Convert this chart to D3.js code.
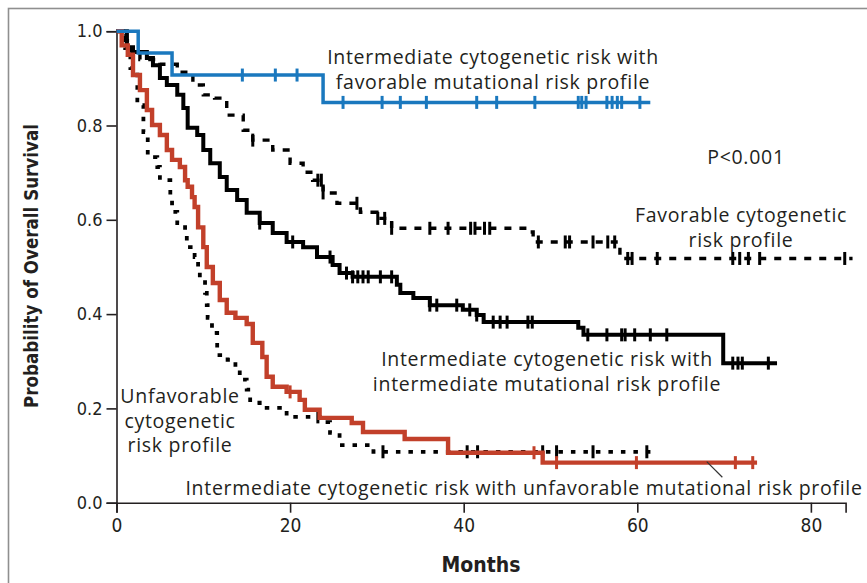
<!DOCTYPE html>
<html>
<head>
<meta charset="utf-8">
<script src="https://cdn.jsdelivr.net/npm/d3@7"></script>
<style>
  html, body { margin: 0; padding: 0; background: #fff; }
  svg { display: block; }
  .tick text { fill: #231f20; }
</style>
</head>
<body>
<svg id="chart" width="867" height="583"></svg>
<script>
// Kaplan–Meier overall survival by cytogenetic / mutational risk group.
// Each curve: event times (months), survival after each event, censoring times.

// Favorable cytogenetic risk profile (dashed)
const favT = [0, 0.8, 1.6, 2.7, 5.0, 7.0, 8.8, 10.0, 11.3, 12.7, 14.6, 15.7, 18.0, 20.0, 21.5, 22.6, 23.8, 25.4, 28.1, 30.0, 31.7, 47.3, 48.0, 58.0, 84.8];
const favS = [1, 0.98, 0.958, 0.94, 0.93, 0.913, 0.886, 0.865, 0.858, 0.822, 0.79, 0.769, 0.748, 0.72, 0.701, 0.684, 0.657, 0.635, 0.616, 0.603, 0.582, 0.574, 0.553, 0.518, 0.518];
const favCensor = [15.7, 23.2, 23.6, 23.8, 27.7, 30.1, 30.9, 31.7, 36.1, 38.2, 40.8, 41.3, 42.4, 43.0, 48.6, 51.7, 52.2, 54.9, 56.6, 57.4, 58.9, 59.4, 62.3, 71.0, 71.8, 72.8, 74.1, 83.9];

// Unfavorable cytogenetic risk profile (dotted)
const unfT = [0, 0.7, 1.0, 1.6, 2.4, 3.1, 3.6, 4.7, 5.0, 6.2, 6.4, 7.0, 7.9, 8.1, 9.0, 9.4, 9.6, 10.2, 10.4, 10.5, 11.0, 11.6, 12.8, 13.7, 14.2, 15.0, 15.4, 16.5, 19.6, 23.4, 24.6, 25.7, 29.6, 62.0];
const unfS = [1, 0.99, 0.964, 0.922, 0.843, 0.786, 0.733, 0.712, 0.684, 0.642, 0.617, 0.593, 0.574, 0.542, 0.521, 0.498, 0.472, 0.445, 0.419, 0.392, 0.36, 0.313, 0.303, 0.282, 0.261, 0.24, 0.212, 0.201, 0.182, 0.171, 0.148, 0.122, 0.108, 0.108];
const unfCensor = [23.2, 30.7, 40.4, 41.6, 49.1, 50.7, 54.9, 61.1];

// Intermediate cytogenetic risk, intermediate mutational risk (solid black)
const midT = [0, 1.2, 1.9, 3.5, 4.2, 5.0, 5.8, 7.0, 7.7, 8.2, 9.3, 10.0, 10.8, 11.9, 12.7, 13.9, 15.0, 16.5, 18.0, 19.6, 21.5, 23.1, 24.9, 25.7, 27.2, 32.3, 32.7, 34.2, 36.1, 39.9, 41.5, 42.3, 53.2, 53.8, 69.9, 76.1];
const midS = [1, 0.966, 0.956, 0.943, 0.928, 0.901, 0.886, 0.865, 0.837, 0.795, 0.78, 0.748, 0.72, 0.691, 0.663, 0.642, 0.615, 0.593, 0.572, 0.553, 0.542, 0.521, 0.504, 0.487, 0.479, 0.462, 0.445, 0.434, 0.419, 0.409, 0.398, 0.383, 0.371, 0.356, 0.296, 0.296];
const midCensor = [16.5, 20.3, 24.6, 26.5, 27.2, 27.8, 28.4, 29.0, 30.4, 31.7, 36.1, 36.9, 39.2, 40.7, 41.5, 43.4, 44.2, 45.0, 47.4, 47.9, 54.3, 56.5, 58.2, 58.6, 59.7, 61.5, 63.4, 71.0, 71.6, 72.1, 75.1];

// Intermediate cytogenetic risk, unfavorable mutational risk (red)
const redT = [0, 0.6, 1.3, 1.9, 2.7, 3.5, 4.1, 5.0, 5.8, 6.4, 7.3, 7.9, 8.2, 8.7, 9.0, 9.4, 10.0, 10.4, 11.1, 11.9, 12.7, 13.7, 15.0, 15.7, 16.8, 17.3, 18.0, 19.6, 21.1, 21.7, 23.4, 27.1, 28.4, 33.2, 38.2, 49.1, 73.8];
const redS = [1, 0.97, 0.95, 0.907, 0.875, 0.833, 0.801, 0.78, 0.748, 0.727, 0.712, 0.684, 0.67, 0.648, 0.627, 0.584, 0.542, 0.5, 0.466, 0.43, 0.403, 0.392, 0.379, 0.339, 0.309, 0.267, 0.246, 0.235, 0.218, 0.197, 0.18, 0.169, 0.15, 0.135, 0.106, 0.085, 0.085];
const redCensor = [20.0, 48.1, 50.7, 59.9, 71.3, 73.3];

// Intermediate cytogenetic risk, favorable mutational risk (blue)
const blueT = [0, 2.5, 6.4, 23.8, 61.5];
const blueS = [1, 0.954, 0.907, 0.849, 0.849];
const blueCensor = [14.5, 18.3, 20.8, 26.1, 30.6, 32.7, 35.7, 41.5, 43.8, 48.2, 53.2, 53.6, 54.1, 56.5, 57.1, 57.7, 58.2, 60.3];

// Axis ticks
const xTicks = [0, 20, 40, 60, 80];
const yTicks = [0, 0.2, 0.4, 0.6, 0.8, 1.0];

const svg = d3.select("#chart");
const x = d3.scaleLinear().domain([0, 84]).range([116.5, 845.6]);
const y = d3.scaleLinear().domain([0, 1]).range([502.7, 31.2]);

const ink = "#231f20";
const condensed = "'DejaVu Sans Condensed', 'Liberation Sans Narrow', sans-serif";
const labelFont = "'Open Sans', 'Noto Sans', sans-serif";

// outer frame
svg.append("rect")
  .attr("x", 8.5).attr("y", 8.5).attr("width", 900).attr("height", 600)
  .attr("fill", "none").attr("stroke", "#8f8f8f").attr("stroke-width", 1.6);

// axes
const gx = svg.append("g").attr("transform", `translate(0,${y(0)})`)
  .call(d3.axisBottom(x).tickValues(xTicks).tickSize(10).tickPadding(6).tickFormat(d3.format("d")));
const gy = svg.append("g").attr("transform", `translate(${x(0)},0)`)
  .call(d3.axisLeft(y).tickValues(yTicks).tickSize(10).tickPadding(4).tickFormat(d3.format(".1f")));
[gx, gy].forEach(g => {
  g.select(".domain").attr("stroke", ink).attr("stroke-width", 1.6);
  g.selectAll(".tick line").attr("stroke", ink).attr("stroke-width", 1.6);
});
gx.selectAll(".tick text").attr("font-family", condensed).attr("font-size", 19);
gy.selectAll(".tick text").attr("font-family", condensed).attr("font-size", 18);

// axis titles
svg.append("text")
  .attr("x", 481).attr("y", 572).attr("text-anchor", "middle")
  .attr("font-family", condensed).attr("font-weight", "bold").attr("font-size", 21)
  .attr("fill", ink).text("Months");
svg.append("text")
  .attr("transform", "translate(38,266) rotate(-90)").attr("text-anchor", "middle")
  .attr("font-family", condensed).attr("font-weight", "bold").attr("font-size", 18.6)
  .attr("fill", ink).text("Probability of Overall Survival");

// survival curves
const stepLine = d3.line()
  .x(d => x(d[0])).y(d => y(d[1]))
  .curve(d3.curveStepAfter);

function survivalAt(T, S, t) {
  const i = d3.bisectRight(T, t) - 1;
  return S[Math.max(0, i)];
}

const curves = [
  { T: favT, S: favS, C: favCensor, color: "#000", width: 3.4, dash: "7,8" },
  { T: unfT, S: unfS, C: unfCensor, color: "#000", width: 3.8, dash: "4.5,8" },
  { T: midT, S: midS, C: midCensor, color: "#000", width: 4, dash: null },
  { T: redT, S: redS, C: redCensor, color: "#c2402a", width: 4.4, dash: null },
  { T: blueT, S: blueS, C: blueCensor, color: "#1a78be", width: 3.5, dash: null }
];

curves.forEach(c => {
  const pts = c.T.map((t, i) => [t, c.S[i]]);
  svg.append("path")
    .datum(pts)
    .attr("d", stepLine)
    .attr("fill", "none")
    .attr("stroke", c.color)
    .attr("stroke-width", c.width)
    .attr("stroke-dasharray", c.dash)
    .attr("stroke-linejoin", "miter");
  svg.append("g").selectAll("line")
    .data(c.C)
    .join("line")
    .attr("x1", d => x(d)).attr("x2", d => x(d))
    .attr("y1", d => y(survivalAt(c.T, c.S, d)) - 6.5)
    .attr("y2", d => y(survivalAt(c.T, c.S, d)) + 6.5)
    .attr("stroke", c.color)
    .attr("stroke-width", 3);
});

// group labels
const labels = [
  { x: 493, y: 64, lines: ["Intermediate cytogenetic risk with", "favorable mutational risk profile"] },
  { x: 746, y: 164, lines: ["P<0.001"] },
  { x: 741, y: 222, lines: ["Favorable cytogenetic", "risk profile"] },
  { x: 547, y: 366, lines: ["Intermediate cytogenetic risk with", "intermediate mutational risk profile"] },
  { x: 180, y: 403, lines: ["Unfavorable", "cytogenetic", "risk profile"] },
  { x: 524, y: 495, lines: ["Intermediate cytogenetic risk with unfavorable mutational risk profile"] }
];
labels.forEach(l => {
  const t = svg.append("text")
    .attr("text-anchor", "middle")
    .attr("font-family", labelFont).attr("font-size", 19.5)
    .attr("letter-spacing", 0.7)
    .attr("fill", ink);
  l.lines.forEach((s, i) => {
    t.append("tspan").attr("x", l.x).attr("y", l.y + i * 24.5).text(s);
  });
});

// leader line from the red curve to its label
svg.append("line")
  .attr("x1", x(68.0)).attr("y1", y(0.085) - 1)
  .attr("x2", x(69.8)).attr("y2", y(0.054))
  .attr("stroke", "#333").attr("stroke-width", 1.2);
</script>
</body>
</html>
